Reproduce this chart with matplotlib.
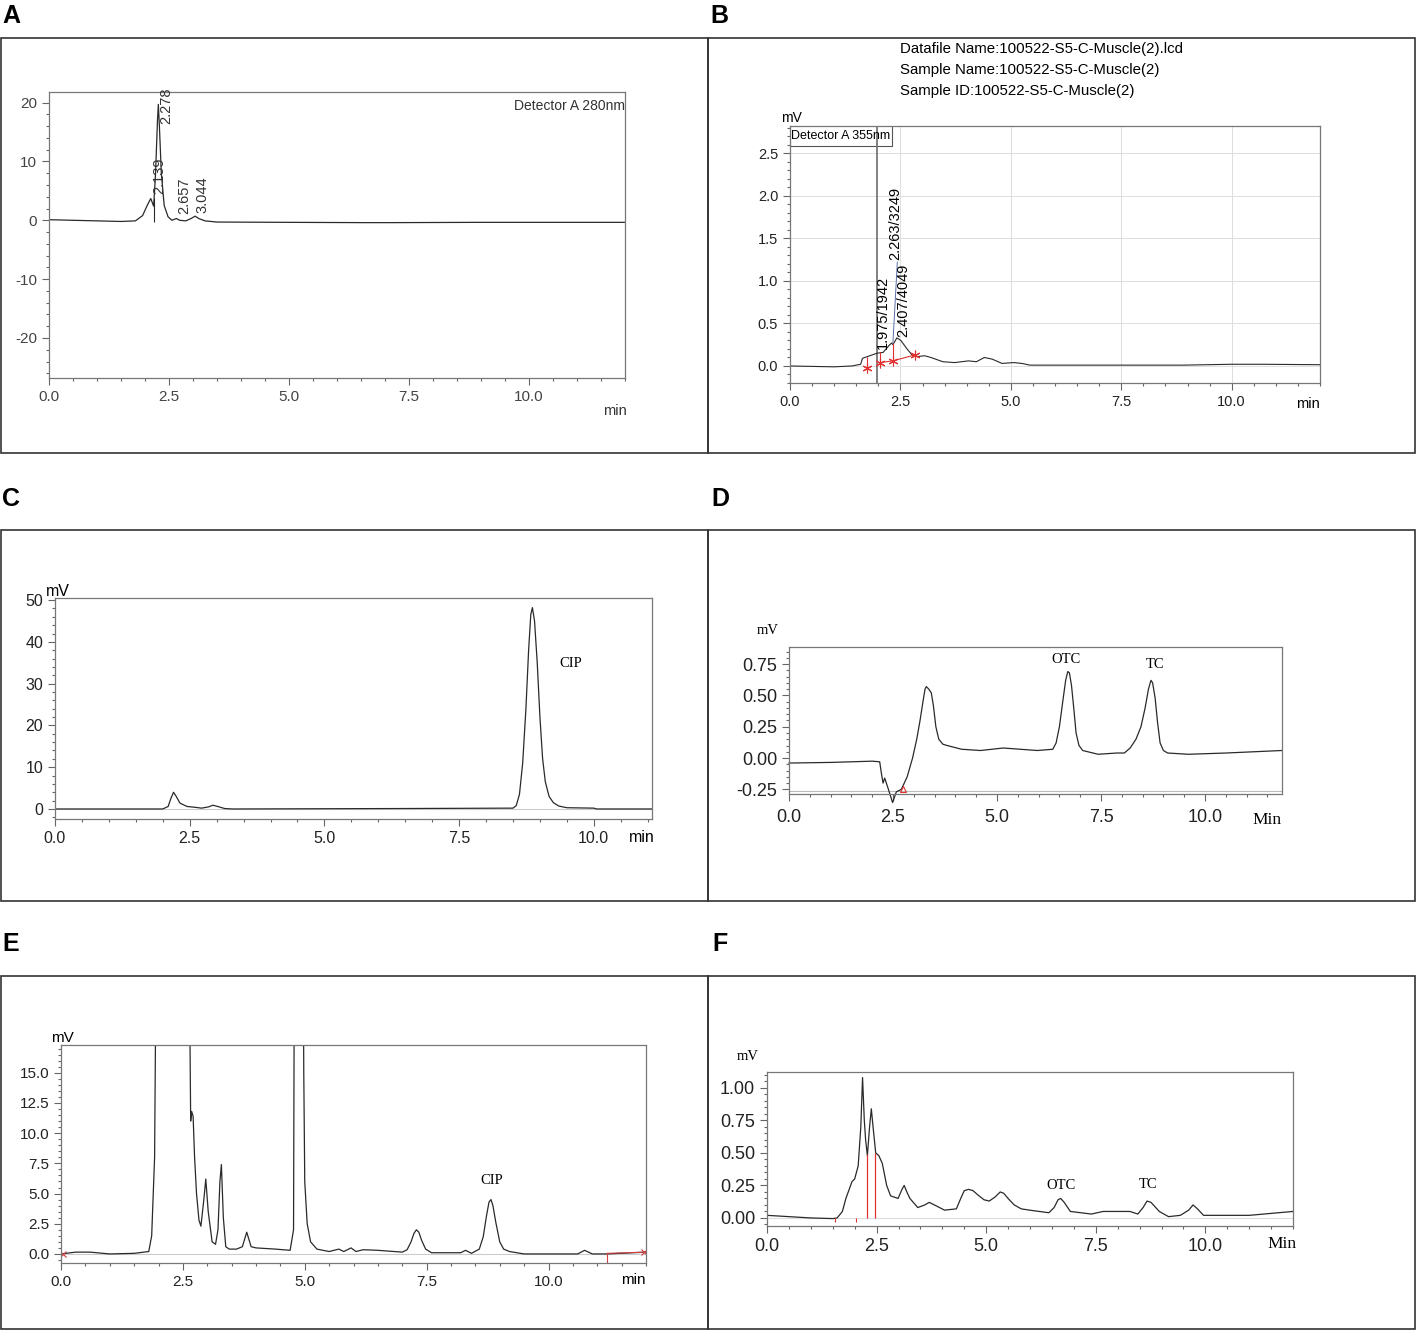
import matplotlib
matplotlib.use('Agg')
import matplotlib.pyplot as plt
from matplotlib.patches import Rectangle
from matplotlib.ticker import MultipleLocator, FormatStrFormatter

NARROW = ['Liberation Sans Narrow', 'Liberation Sans', 'DejaVu Sans']
ARIAL = ['Liberation Sans', 'DejaVu Sans']
TIMES = ['Liberation Serif', 'DejaVu Serif']
plt.rcParams['font.family'] = NARROW
plt.rcParams['axes.unicode_minus'] = False

# chromatogram traces (time in min, signal in mV)
a_time = [0.0, 0.5, 1.0, 1.5, 1.8, 1.95, 2.05, 2.12, 2.18, 2.22, 2.26, 2.278, 2.30, 2.34, 2.40, 2.48,
          2.56, 2.62, 2.657, 2.72, 2.85, 2.96, 3.044, 3.12, 3.25, 3.5, 5.0, 6.6, 7.1, 9.0, 12.0]
a_mv = [0.1, 0.0, -0.1, -0.2, -0.1, 0.8, 2.6, 3.7, 2.4, 8.0, 17.0, 19.7, 16.0, 8.0, 2.5, 0.6,
        0.0, 0.2, 0.3, 0.0, -0.1, 0.3, 0.7, 0.3, -0.1, -0.3, -0.35, -0.4, -0.4, -0.35, -0.35]
a_peaks = ['2.278', '2.139', '2.657', '3.044']

b_time = [0.0, 0.5, 1.0, 1.4, 1.6, 1.64, 1.75, 1.97, 2.11, 2.24, 2.3, 2.33, 2.42, 2.51, 2.65, 2.78, 2.87,
          3.05, 3.19, 3.46, 3.73, 4.04, 4.22, 4.4, 4.58, 4.8, 5.07, 5.25, 5.43, 7.14, 8.9, 10.0, 10.7, 12.0]
b_mv = [0.0, -0.005, -0.01, 0.0, 0.02, 0.09, 0.11, 0.15, 0.16, 0.24, 0.27, 0.25, 0.33, 0.3, 0.2, 0.12, 0.11,
        0.12, 0.1, 0.05, 0.04, 0.06, 0.05, 0.1, 0.08, 0.03, 0.04, 0.03, 0.01, 0.01, 0.01, 0.02, 0.02, 0.015]
b_marks_time = [1.75, 2.04, 2.33, 2.83]
b_marks_mv = [-0.02, 0.04, 0.06, 0.13]
b_peaks = ['1.975/1942', '2.263/3249', '2.407/4049']
b_header = ['Datafile Name:100522-S5-C-Muscle(2).lcd',
            'Sample Name:100522-S5-C-Muscle(2)',
            'Sample ID:100522-S5-C-Muscle(2)']

c_time = [0.0, 2.0, 2.1, 2.15, 2.2, 2.25, 2.32, 2.45, 2.6, 2.72, 2.85, 2.93, 3.02, 3.15, 3.3, 6.3,
          8.5, 8.56, 8.62, 8.68, 8.74, 8.79, 8.83, 8.86, 8.9, 8.95, 9.0, 9.05, 9.1, 9.17, 9.25, 9.35,
          9.5, 10.0, 10.05, 11.08]
c_mv = [0.0, 0.0, 0.6, 2.5, 4.0, 3.0, 1.4, 0.6, 0.4, 0.2, 0.5, 0.9, 0.6, 0.1, 0.0, 0.1,
        0.2, 0.8, 3.5, 11.0, 24.0, 38.0, 46.5, 48.2, 45.0, 35.0, 22.0, 12.0, 6.5, 3.0, 1.5, 0.7,
        0.3, 0.2, 0.0, 0.0]

d_time = [0.0, 1.0, 2.0, 2.18, 2.22, 2.26, 2.3, 2.38, 2.49, 2.58, 2.7, 2.84, 2.97, 3.07, 3.15, 3.22,
          3.27, 3.3, 3.36, 3.42, 3.47, 3.53, 3.6, 3.7, 3.8, 4.15, 4.6, 5.15, 5.97, 6.34, 6.42, 6.5,
          6.58, 6.65, 6.7, 6.74, 6.79, 6.85, 6.9, 6.97, 7.06, 7.43, 7.88, 8.06, 8.2, 8.34, 8.46, 8.56,
          8.64, 8.7, 8.74, 8.8, 8.86, 8.92, 9.0, 9.1, 9.6, 10.5, 11.84]
d_mv = [-0.04, -0.035, -0.025, -0.03, -0.12, -0.2, -0.16, -0.24, -0.355, -0.27, -0.25, -0.15, 0.0, 0.15,
        0.3, 0.45, 0.55, 0.57, 0.55, 0.52, 0.42, 0.25, 0.15, 0.11, 0.1, 0.07, 0.06, 0.08, 0.06, 0.07,
        0.12, 0.25, 0.45, 0.62, 0.69, 0.68, 0.58, 0.38, 0.2, 0.1, 0.06, 0.03, 0.04, 0.04, 0.08, 0.15,
        0.25, 0.4, 0.55, 0.62, 0.6, 0.48, 0.28, 0.12, 0.06, 0.04, 0.03, 0.04, 0.06]

e_time = [0.0, 0.3, 0.6, 1.0, 1.5, 1.8, 1.86, 1.92, 1.96, 2.05, 2.55, 2.62, 2.66, 2.68, 2.71, 2.74,
          2.78, 2.83, 2.87, 2.93, 2.97, 3.02, 3.1, 3.17, 3.22, 3.26, 3.29, 3.33, 3.38, 3.45, 3.6, 3.72,
          3.81, 3.9, 4.0, 4.4, 4.7, 4.77, 4.79, 4.85, 4.95, 4.98, 5.0, 5.05, 5.12, 5.25, 5.5, 5.7, 5.8,
          5.95, 6.05, 6.2, 6.5, 7.0, 7.1, 7.18, 7.24, 7.29, 7.34, 7.4, 7.48, 7.6, 8.2, 8.3, 8.42,
          8.58, 8.66, 8.73, 8.78, 8.82, 8.86, 8.92, 9.0, 9.08, 9.2, 9.5, 10.6, 10.74, 10.9, 11.2, 12.0]
e_mv = [0.0, 0.15, 0.15, 0.0, 0.05, 0.2, 1.5, 8.0, 30.0, 80.0, 80.0, 30.0, 11.0, 11.8, 11.4, 8.0,
        5.0, 2.8, 2.3, 4.5, 6.2, 3.5, 1.0, 0.8, 2.0, 6.0, 7.4, 3.0, 0.6, 0.4, 0.4, 0.6,
        1.8, 0.6, 0.5, 0.4, 0.3, 2.0, 30.0, 80.0, 40.0, 15.0, 6.0, 2.5, 1.0, 0.4, 0.2, 0.4, 0.2,
        0.5, 0.2, 0.35, 0.3, 0.15, 0.35, 1.0, 1.7, 2.0, 1.8, 1.1, 0.4, 0.1, 0.1, 0.3, 0.05,
        0.4, 1.4, 3.2, 4.3, 4.5, 4.0, 2.6, 1.0, 0.4, 0.2, 0.0, 0.0, 0.3, 0.0, 0.0, 0.15]

f_time = [0.0, 0.5, 1.0, 1.5, 1.6, 1.72, 1.8, 1.94, 2.0, 2.08, 2.14, 2.18, 2.22, 2.25, 2.29, 2.34,
          2.38, 2.42, 2.48, 2.55, 2.63, 2.73, 2.82, 2.99, 3.08, 3.13, 3.19, 3.26, 3.44, 3.6, 3.7,
          3.82, 4.05, 4.32, 4.42, 4.5, 4.6, 4.7, 4.8, 4.95, 5.07, 5.2, 5.32, 5.4, 5.5, 5.64, 5.8,
          5.99, 6.43, 6.55, 6.64, 6.7, 6.78, 6.92, 7.4, 7.67, 8.28, 8.46, 8.58, 8.67, 8.76, 8.95,
          9.16, 9.43, 9.62, 9.72, 9.82, 9.96, 11.0, 12.0]
f_mv = [0.02, 0.01, 0.0, -0.005, 0.0, 0.05, 0.15, 0.28, 0.3, 0.4, 0.7, 1.08, 0.75, 0.6, 0.48, 0.7,
        0.84, 0.7, 0.5, 0.48, 0.42, 0.25, 0.17, 0.15, 0.22, 0.25, 0.2, 0.15, 0.08, 0.1, 0.12,
        0.1, 0.06, 0.07, 0.15, 0.21, 0.22, 0.21, 0.18, 0.14, 0.13, 0.16, 0.2, 0.19, 0.15, 0.1, 0.07,
        0.06, 0.04, 0.08, 0.14, 0.15, 0.12, 0.05, 0.03, 0.05, 0.05, 0.03, 0.08, 0.13, 0.12, 0.05,
        0.01, 0.02, 0.06, 0.1, 0.07, 0.02, 0.02, 0.05]
f_cuts = [2.27, 2.47]

W, H = 1417, 1331
fig = plt.figure(figsize=(W / 100, H / 100), dpi=100)
LINE = '#2a2a2a'


def px_axes(left, top, right, bottom):
    return fig.add_axes([left / W, 1 - bottom / H, (right - left) / W, (bottom - top) / H])


def px_text(x, y, s, **kw):
    kw.setdefault('va', 'center')
    fig.text(x / W, 1 - y / H, s, **kw)


def style(ax, xlim, ylim, ymaj, ymin, yfmt, size, family, color='#222'):
    ax.set_xlim(*xlim)
    ax.set_ylim(*ylim)
    ax.xaxis.set_major_locator(MultipleLocator(2.5))
    ax.xaxis.set_minor_locator(MultipleLocator(0.5))
    ax.yaxis.set_major_locator(MultipleLocator(ymaj))
    ax.yaxis.set_minor_locator(MultipleLocator(ymin))
    ax.xaxis.set_major_formatter(FormatStrFormatter('%.1f'))
    ax.yaxis.set_major_formatter(FormatStrFormatter(yfmt))
    ax.tick_params(which='both', direction='out', color='#666', width=0.8,
                   labelsize=size, labelfontfamily=family, labelcolor=color)
    ax.tick_params(which='major', length=5)
    ax.tick_params(which='minor', length=2.5)
    for s in ax.spines.values():
        s.set_color('#777')
        s.set_linewidth(0.9)


# panel frames and letters
for l, t, r, b in [(1, 38, 708, 453), (708, 38, 1415, 453), (1, 530, 708, 901),
                   (708, 530, 1415, 901), (1, 976, 708, 1329), (708, 976, 1415, 1329)]:
    fig.patches.append(Rectangle((l / W, 1 - b / H), (r - l) / W, (b - t) / H,
                                 transform=fig.transFigure, fill=False, ec='#333', lw=1.2))
for x, y, s in [(2, 16, 'A'), (710, 16, 'B'), (2, 499, 'C'), (711, 499, 'D'), (2, 944, 'E'), (712, 944, 'F')]:
    px_text(x, y, s, fontsize=18, fontweight='bold', family=ARIAL, ha='left')

# A
ax = px_axes(49, 92, 625, 378)
ax.plot(a_time, a_mv, color=LINE, lw=0.9)
ax.vlines(2.19, -0.3, 3.8, color=LINE, lw=0.8)
for s, x, y in zip(a_peaks, [2.44, 2.29, 2.81, 3.2], [16.3, 4.4, 1.0, 1.25]):
    ax.text(x, y, s, rotation=90, ha='center', va='bottom', fontsize=10.5, color='#333')
ax.text(1.0, 0.975, 'Detector A 280nm', transform=ax.transAxes, ha='right', va='top',
        fontsize=10, color='#333')
style(ax, (0, 12), (-26.8, 21.8), 10, 2, '%d', 11, NARROW, '#444')
px_text(627, 411, 'min', ha='right', fontsize=10.5, color='#333')

# B
ax = px_axes(790, 126, 1320, 383)
ax.grid(True, which='major', color='#dddddd', lw=0.7)
ax.set_axisbelow(True)
ax.axvline(1.98, color='#777', lw=1.3)
ax.plot(b_time, b_mv, color=LINE, lw=0.8)
ax.plot(b_marks_time[1:], b_marks_mv[1:], color='#e03030', lw=0.8)
ax.vlines([1.75, 2.04, 2.33], [-0.06, 0.04, 0.06], [0.1, 0.16, 0.27], color='#e03030', lw=0.8)
ax.plot(b_marks_time, b_marks_mv, ls='none', marker=(6, 2, 0), ms=7, mec='#e03030', mew=0.8)
ax.plot([2.33, 2.43], [0.27, 1.22], color='#5a6fa8', lw=0.7)
for s, x, y in zip(b_peaks, [2.11, 2.38, 2.56], [0.2, 1.24, 0.34]):
    ax.text(x, y, s, rotation=90, ha='center', va='bottom', fontsize=10.5)
ax.add_patch(Rectangle((0, 2.59), 2.3, 0.25, fill=False, ec='#555', lw=0.8))
ax.text(0.02, 2.705, 'Detector A 355nm', va='center', fontsize=9)
style(ax, (0, 12), (-0.2, 2.82), 0.5, 0.1, '%.1f', 10.5, NARROW)
for i, s in enumerate(b_header):
    px_text(900, 49 + 21 * i, s, ha='left', fontsize=10.8)
px_text(791, 118, 'mV', ha='center', fontsize=10)
px_text(1320, 404, 'min', ha='right', fontsize=10.5)

# C
ax = px_axes(55, 598, 652, 819)
ax.axhline(0, color='#cccccc', lw=0.8)
ax.plot(c_time, c_mv, color=LINE, lw=0.9)
ax.text(9.57, 34.9, 'CIP', family=TIMES, fontsize=10.5, ha='center', va='center')
style(ax, (0, 11.08), (-2.4, 50.5), 10, 2, '%d', 11.5, NARROW)
px_text(58, 592, 'mV', ha='center', fontsize=11.5)
px_text(655, 838, 'min', ha='right', fontsize=11.5)

# D
ax = px_axes(789, 647, 1282, 794)
ax.axhline(-0.262, color='#bbbbbb', lw=0.8)
ax.plot(d_time, d_mv, color=LINE, lw=0.9, clip_on=False)
ax.plot(2.75, -0.245, marker='^', mfc='none', mec='#e03030', ms=4, mew=0.8)
ax.text(6.65, 0.79, 'OTC', family=TIMES, fontsize=10.5, ha='center', va='center')
ax.text(8.8, 0.75, 'TC', family=TIMES, fontsize=10.5, ha='center', va='center')
style(ax, (0, 11.85), (-0.287, 0.886), 0.25, 0.05, '%.2f', 13, ARIAL)
ax.tick_params(axis='x', which='major', pad=6)
px_text(768, 631, 'mV', family=TIMES, fontsize=10.5, ha='center')
px_text(1282, 820, 'Min', family=TIMES, fontsize=12.5, ha='right')

# E
ax = px_axes(61, 1045, 646, 1263)
ax.axhline(0, color='#cccccc', lw=0.8)
ax.plot(e_time, e_mv, color=LINE, lw=0.9)
ax.plot([11.2, 12.0], [0.05, 0.15], color='#d04040', lw=0.8)
ax.vlines(11.2, -0.75, 0.05, color='#d04040', lw=0.8)
ax.plot([0.05, 11.95], [0.0, 0.15], ls='none', marker='x', ms=4, mec='#d04040', mew=0.8)
ax.text(8.83, 6.1, 'CIP', family=TIMES, fontsize=10.5, ha='center', va='center')
style(ax, (0, 12), (-0.75, 17.3), 2.5, 0.5, '%.1f', 11, NARROW)
px_text(62, 1038, 'mV', ha='center', fontsize=11)
px_text(646, 1280, 'min', ha='right', fontsize=11)

# F
ax = px_axes(767, 1072, 1293, 1226)
ax.axhline(0, color='#dddddd', lw=0.8)
ax.plot(f_time, f_mv, color=LINE, lw=0.9)
ax.vlines(f_cuts, 0, [0.49, 0.5], color='#e03030', lw=0.9)
ax.vlines([1.55, 2.04], -0.03, 0.0, color='#e03030', lw=0.8)
ax.text(6.7, 0.25, 'OTC', family=TIMES, fontsize=10.5, ha='center', va='center')
ax.text(8.7, 0.26, 'TC', family=TIMES, fontsize=10.5, ha='center', va='center')
style(ax, (0, 12), (-0.062, 1.123), 0.25, 0.05, '%.2f', 13, ARIAL)
px_text(748, 1057, 'mV', family=TIMES, fontsize=10.5, ha='center')
px_text(1297, 1244, 'Min', family=TIMES, fontsize=12.5, ha='right')

fig.savefig('out.png', dpi=100)
